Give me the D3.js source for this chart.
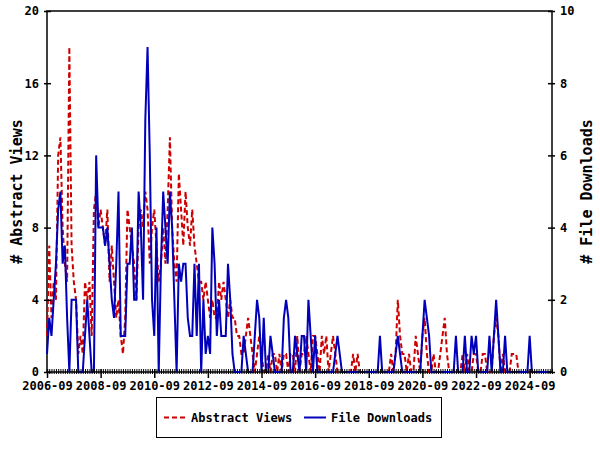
<!DOCTYPE html>
<html><head><meta charset="utf-8">
<script src="https://cdn.jsdelivr.net/npm/d3@7"></script>
<style>body{margin:0;background:#fff}svg{display:block}text{font-family:"DejaVu Sans Mono",monospace;font-weight:bold}</style>
</head><body>
<svg id="c" width="600" height="450"></svg>
<script>
const startYear = 2006, startMonth = 9;
const tickLabels = ["2006-09","2008-09","2010-09","2012-09","2014-09","2016-09","2018-09","2020-09","2022-09","2024-09"];
const leftTicks = [0,4,8,12,16,20];
const rightTicks = [0,2,4,6,8,10];
const seriesNames = ["Abstract Views","File Downloads"];
const abstractViews = [
2,7,3,5,4,12,13,8,6,5,18,7,5,4,1,2,1,5,4,5,2,9,10,8,9,8,7,9,5,7,
5,3,4,2,1,3,9,8,7,6,4,8,9,8,10,9,6,8,9,7,5,6,8,6,9,13,8,6,5,11,
9,7,10,8,7,9,7,6,5,5,4,5,4,3,4,3,3,5,4,5,4,3,4,3,3,2,2,1,1,2,
3,2,1,0,1,2,1,0,0,1,0,1,1,0,1,0,1,1,0,1,1,0,2,0,1,1,2,1,0,2,
2,1,0,2,1,2,0,1,2,1,0,0,0,0,0,0,0,1,0,1,0,0,0,0,0,0,0,0,0,0,
0,0,0,0,1,0,1,4,2,1,1,0,1,0,0,2,1,0,2,3,1,0,0,1,0,0,1,2,3,1,
0,0,0,0,0,0,1,0,1,0,0,1,1,0,0,1,1,0,0,0,2,3,2,0,1,0,0,0,1,1,
1,0,0,0,0,0,0,0,0,0,0,0,0,0,0,0,0];
const fileDownloads = [
0.5,1.5,1,2,3,4.5,5,3,3.5,1.5,0,2,2,2,0,0,0,1,2,1,0,0,6,4,4,4,3.5,4,3,2,
1.5,3,5,1,1,1,3,3,4,2,2,5,4,2,7,9,6,2,1,4,0,3,5,4,3,5,4,2,0,3,
2.5,3,3,1.5,1,1,3,1,3,0,2,0.5,1,0.5,4,3,1,2,1,1,1,3,2,0.5,0,0,0,0,1,0.5,
0,0,0,1,2,1.5,0,1.5,0,0,1,0.5,0,0,0,0,1.5,2,1.5,0,0,1,0.5,0,1,1,0,2,1,0,
1,0,0,0,0,0,0,0,0,0.5,1,0.5,0,0,0,0,0,0,0,0,0,0,0,0,0,0,0,0,0,1,
0,0,0,0,0,0,0.5,1,0.5,0,0,0,0,0,0,0,0,0,1,2,1.5,1,0,0,0,0,0,0,0,0,
0,0,0,1,0,0,0,1,0,0,1,0.5,1,0,0,0,0,0,1,0,1,2,1,0,0,1,0,0,0,0,
0,0,0,0,0,0,1,0,0,0,0,0,0,0,0,0,0];

const svg = d3.select("#c");
const L = 47, R = 552, T = 11, B = 372;
const n = abstractViews.length;
const x = d3.scaleLinear().domain([0, n - 1]).range([L, R]);
const yL = d3.scaleLinear().domain([0, 20]).range([B, T]);
const yR = d3.scaleLinear().domain([0, 10]).range([B, T]);
const red = "#cc0000", blue = "#0000bb";

// frame
svg.append("rect").attr("x", L).attr("y", T).attr("width", R - L).attr("height", B - T)
  .attr("fill", "none").attr("stroke", "#000").attr("stroke-width", 1.5);

// lines
const lineL = d3.line().x((d, i) => x(i)).y(d => yL(d));
const lineR = d3.line().x((d, i) => x(i)).y(d => yR(d));
svg.append("path").attr("d", lineL(abstractViews)).attr("fill", "none")
  .attr("stroke", red).attr("stroke-width", 2).attr("stroke-dasharray", "5,3");
svg.append("path").attr("d", lineR(fileDownloads)).attr("fill", "none")
  .attr("stroke", blue).attr("stroke-width", 2);

// left axis
const gL = svg.append("g").attr("transform", `translate(${L},0)`)
  .call(d3.axisLeft(yL).tickValues(leftTicks).tickSize(4).tickPadding(4).tickFormat(d3.format("d")));
gL.select(".domain").remove();
gL.selectAll(".tick line").attr("x2", -3).attr("x1", 4).attr("stroke-width", 1.5);
gL.selectAll("text").attr("font-size", 12).attr("font-family", "DejaVu Sans Mono").attr("font-weight", "bold");

// right axis
const gR = svg.append("g").attr("transform", `translate(${R},0)`)
  .call(d3.axisRight(yR).tickValues(rightTicks).tickSize(4).tickPadding(4).tickFormat(d3.format("d")));
gR.select(".domain").remove();
gR.selectAll(".tick line").attr("x1", -4).attr("x2", 3).attr("stroke-width", 1.5);
gR.selectAll("text").attr("font-size", 12).attr("font-family", "DejaVu Sans Mono").attr("font-weight", "bold");

// bottom axis: minor monthly ticks
const gBm = svg.append("g").attr("transform", `translate(0,${B})`)
  .call(d3.axisBottom(x).tickValues(d3.range(0, n)).tickSize(3).tickFormat(""));
gBm.select(".domain").remove();
gBm.selectAll(".tick line").attr("y1", -3).attr("y2", 2);
const gB = svg.append("g").attr("transform", `translate(0,${B})`)
  .call(d3.axisBottom(x).tickValues(tickLabels.map((d, i) => i * 24)).tickSize(5).tickPadding(4)
    .tickFormat((d, i) => tickLabels[i]));
gB.select(".domain").remove();
gB.selectAll(".tick line").attr("y1", -3).attr("y2", 6).attr("stroke-width", 1.5);
gB.selectAll("text").attr("font-size", 12).attr("font-family", "DejaVu Sans Mono").attr("font-weight", "bold");

// axis titles
svg.append("text").attr("transform", `translate(22,${(T + B) / 2}) rotate(-90)`)
  .attr("text-anchor", "middle").attr("font-size", 15).text("# Abstract Views");
svg.append("text").attr("transform", `translate(592,${(T + B) / 2}) rotate(-90)`)
  .attr("text-anchor", "middle").attr("font-size", 15).text("# File Downloads");

// legend
const lg = svg.append("g");
lg.append("rect").attr("x", 156.5).attr("y", 397.5).attr("width", 285).attr("height", 40)
  .attr("fill", "#fff").attr("stroke", "#000").attr("stroke-width", 1);
lg.append("line").attr("x1", 164).attr("x2", 185).attr("y1", 417.5).attr("y2", 417.5)
  .attr("stroke", red).attr("stroke-width", 2).attr("stroke-dasharray", "5,3");
lg.append("text").attr("x", 191).attr("y", 422).attr("font-size", 12).text(seriesNames[0]);
lg.append("line").attr("x1", 304).attr("x2", 326).attr("y1", 417.5).attr("y2", 417.5)
  .attr("stroke", blue).attr("stroke-width", 2);
lg.append("text").attr("x", 331).attr("y", 422).attr("font-size", 12).text(seriesNames[1]);
</script>
</body></html>
